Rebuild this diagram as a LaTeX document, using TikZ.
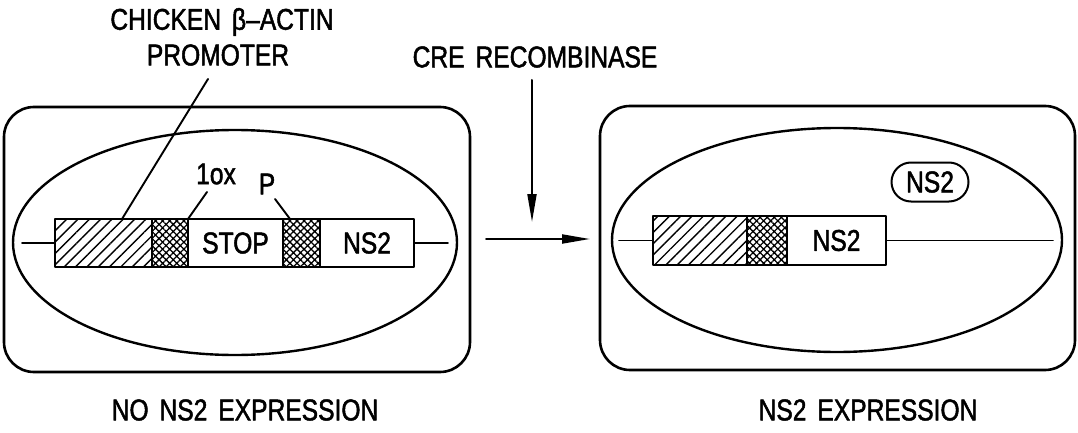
\documentclass[tikz,border=0pt]{standalone}
\usepackage{fontspec}
\newfontfamily\lab{Liberation Sans}[FakeStretch=0.82,WordSpace=1.6,FakeBold=1.6]
\usetikzlibrary{shapes.geometric,shapes.misc,patterns.meta,arrows.meta}
\begin{document}
\begin{tikzpicture}[x=1pt,y=-1pt,line join=round,line cap=round,
  txt/.style={font=\lab\fontsize{30}{32}\selectfont, inner sep=0pt, align=center},
  cellbox/.style={draw, rectangle, rounded corners=30pt, line width=2.6pt},
  nuc/.style={draw, ellipse, line width=2.4pt, inner sep=0pt},
  seg/.style={draw, rectangle, line width=2.2pt, inner sep=0pt, minimum height=#1},
  hatchfill/.style={pattern={Lines[angle=45,distance=8pt,line width=1.4pt]}},
  crossfill/.style={pattern={Hatch[angle=45,distance=5pt,line width=1.3pt]}},
  dna/.style={line width=1.6pt},
  leader/.style={line width=1.9pt},
  arr/.style={line width=2pt, -{Triangle[length=28pt,width=9pt]}},
  prot/.style={draw, rounded rectangle, line width=2pt, inner sep=0pt, minimum width=77pt, minimum height=39pt}
]
\useasboundingbox (0,0) rectangle (1078,433);

% cells
\node[cellbox, minimum width=466pt, minimum height=265pt] (cellL) at (237,239.5) {};
\node[cellbox, minimum width=475pt, minimum height=264pt] (cellR) at (837.5,238) {};
\node[nuc, minimum width=444pt, minimum height=225pt] (nucL) at (235,242.5) {};
\node[nuc, minimum width=450pt, minimum height=224pt] (nucR) at (837,240) {};

% left construct
\node[seg=48pt, hatchfill, minimum width=97pt] (pL) at (103.5,243) {};
\node[seg=48pt, crossfill, minimum width=36pt] (lox1L) at (170,243) {};
\node[seg=48pt, minimum width=95pt, txt] (stop) at (235.5,243) {STOP};
\node[seg=48pt, crossfill, minimum width=37pt] (lox2L) at (301.5,243) {};
\node[seg=48pt, minimum width=94pt, txt] (ns2L) at (367,243) {NS2};
\coordinate (dL1) at (22,243);
\coordinate (dL2) at (448,243);
\draw[dna] (dL1) -- (pL.west);
\draw[dna] (ns2L.east) -- (dL2);

% right construct
\node[seg=49pt, hatchfill, minimum width=94pt] (pR) at (700,240.5) {};
\node[seg=49pt, crossfill, minimum width=40pt] (loxR) at (767,240.5) {};
\node[seg=49pt, minimum width=99pt, txt] (ns2R) at (836.5,240.5) {NS2};
\coordinate (dR1) at (619,240.5);
\coordinate (dR2) at (1053,240.5);
\draw[dna] (dR1) -- (pR.west);
\draw[dna] (ns2R.east) -- (dR2);

% protein
\node[prot, txt] (prot) at (930,182) {NS2};

% labels
\node[txt] (chick) at (222,22) {CHICKEN β–ACTIN};
\node[txt] (prom) at (218,55) {PROMOTER};
\node[txt] (cre) at (535,57) {CRE RECOMBINASE};
\node[txt] (lox) at (216,174) {1ox};
\node[txt] (plab) at (267,184) {P};
\node[txt] (capL) at (245,410) {NO NS2 EXPRESSION};
\node[txt] (capR) at (868,410) {NS2 EXPRESSION};

% leaders
\coordinate (promTop) at (208,79);
\coordinate (promBot) at (122,219);
\draw[leader] (promTop) -- (promBot);
\coordinate (loxTop) at (207,192);
\coordinate (loxBot) at (188,219);
\draw[leader] (loxTop) -- (loxBot);
\coordinate (pTop) at (275,199);
\coordinate (pBot) at (290,219);
\draw[leader] (pTop) -- (pBot);

% arrows
\coordinate (creA) at (532,80);
\coordinate (creB) at (532,222);
\draw[arr] (creA) -- (creB);
\coordinate (hA) at (486,239);
\coordinate (hB) at (590,239);
\draw[arr] (hA) -- (hB);
\end{tikzpicture}
\end{document}
